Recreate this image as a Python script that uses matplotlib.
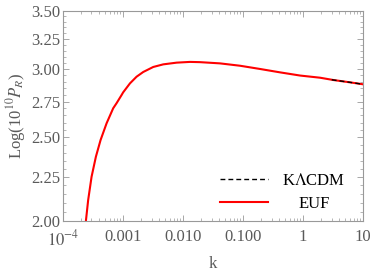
import numpy as np
import matplotlib.pyplot as plt
from matplotlib.ticker import FixedLocator, FixedFormatter, LogLocator, NullFormatter

plt.rcParams['font.family'] = ['Liberation Serif', 'DejaVu Serif']
plt.rcParams['mathtext.fontset'] = 'stix'

# values
k_euf = [2.42e-4, 2.64e-4, 3.01e-4, 3.55e-4, 4.25e-4, 5.35e-4, 6.89e-4, 7.85e-4,
         9.51e-4, 1.01e-3, 1.31e-3, 1.69e-3, 2.18e-3, 3.20e-3, 4.69e-3, 7.85e-3,
         0.0131, 0.0192, 0.0414, 0.0891, 0.192, 0.414, 0.891, 1.92, 3.2, 6.07, 10]
p_euf = [2.000, 2.115, 2.251, 2.374, 2.482, 2.595, 2.701, 2.738,
         2.798, 2.818, 2.886, 2.938, 2.975, 3.015, 3.036, 3.050,
         3.056, 3.054, 3.044, 3.025, 2.999, 2.972, 2.947, 2.930, 2.912, 2.894, 2.879]

k_lcdm = [3.0, 6.07, 10]
p_lcdm = [2.914, 2.894, 2.879]

xticks = [1e-4, 1e-3, 1e-2, 1e-1, 1, 10]
xlabels = [r'$10^{-4}$', '0.001', '0.010', '0.100', '1', '10']
yticks = [2.00, 2.25, 2.50, 2.75, 3.00, 3.25, 3.50]
ylabels = ['2.00', '2.25', '2.50', '2.75', '3.00', '3.25', '3.50']

grey = '#5a5a5a'
fig = plt.figure(figsize=(3.74, 2.74), dpi=100)
ax = fig.add_axes([0.168, 0.193, 0.803, 0.767])

ax.plot(k_euf, p_euf, color='red', lw=1.5, label='EUF', zorder=2)
ax.plot(k_lcdm, p_lcdm, color='black', ls=(0, (3.5, 2.2)), lw=1.0,
        label='K$\\Lambda$CDM', zorder=3)

ax.set_xscale('log')
ax.set_yscale('log')
ax.set_xlim(1e-4, 10)
ax.set_ylim(2.0, 3.5)

ax.xaxis.set_major_locator(FixedLocator(xticks))
ax.xaxis.set_major_formatter(FixedFormatter(xlabels))
ax.xaxis.set_minor_locator(LogLocator(base=10, subs=np.arange(2, 10)))
ax.xaxis.set_minor_formatter(NullFormatter())
ax.yaxis.set_major_locator(FixedLocator(yticks))
ax.yaxis.set_major_formatter(FixedFormatter(ylabels))
ax.yaxis.set_minor_locator(FixedLocator(np.arange(2.05, 3.5, 0.05)))
ax.yaxis.set_minor_formatter(NullFormatter())

ax.tick_params(which='both', direction='in', top=True, right=True, colors='#999999',
               labelcolor=grey, labelsize=12)
ax.tick_params(which='major', length=4, width=0.6)
ax.tick_params(which='minor', length=2, width=0.5)
ax.tick_params(axis='x', pad=6)
ax.tick_params(axis='y', pad=2)
for s in ax.spines.values():
    s.set_color('#999999')
    s.set_linewidth(0.8)

ax.set_xlabel('k', color=grey, fontsize=12, labelpad=5)
ax.set_ylabel('Log(10$^{10}$$P_R$)', color=grey, fontsize=12, labelpad=2)

h, l = ax.get_legend_handles_labels()
leg = ax.legend(h[::-1], l[::-1], loc='center left', bbox_to_anchor=(0.523, 0.136),
                frameon=False, fontsize=12, handlelength=2.9, borderpad=0,
                borderaxespad=0, labelspacing=0.4, handletextpad=0.85)

# centre the shorter label under the longer one, like the reference
fig.canvas.draw()
r = fig.canvas.get_renderer()
texts = leg.get_texts()
widths = [t.get_window_extent(r).width for t in texts]
wmax = max(widths)
for t, w in zip(texts, widths):
    t.set_position(((wmax - w) / 2, 0))

fig.savefig('out.png', dpi=100)
